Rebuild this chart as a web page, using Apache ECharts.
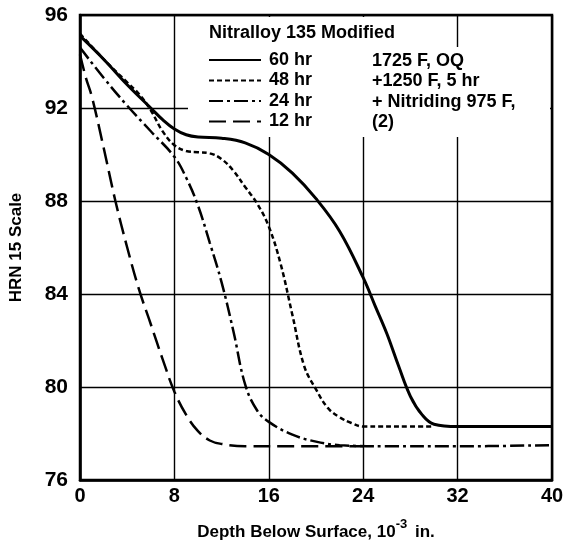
<!DOCTYPE html>
<html>
<head>
<meta charset="utf-8">
<script src="https://cdn.jsdelivr.net/npm/echarts@6/dist/echarts.min.js"></script>
<style>html,body{margin:0;padding:0;background:#fff}#c{width:571px;height:546px}</style>
</head>
<body>
<div id="c"></div>
<script>
// Data
const seriesNames = ['60 hr', '48 hr', '24 hr', '12 hr'];
const xTicks = [0, 8, 16, 24, 32, 40];
const yTicks = [76, 80, 84, 88, 92, 96];
const treatmentNotes = ['1725 F, OQ', '+1250 F, 5 hr', '+ Nitriding 975 F,', '(2)'];

const depth60 = [0, 2, 4, 6, 7, 8, 9, 10, 12, 14, 16, 18, 20, 22, 24, 25, 26, 27, 28, 29, 30, 32, 36, 40];
const hrn60   = [95.1, 94.1, 93.0, 92.0, 91.5, 91.1, 90.85, 90.75, 90.7, 90.5, 90.0, 89.2, 88.1, 86.7, 84.7, 83.5, 82.3, 80.9, 79.6, 78.8, 78.4, 78.3, 78.3, 78.3];

const depth48 = [0, 2, 4, 5, 6, 7, 8, 9, 10, 11, 12, 13, 14, 15, 16, 17, 18, 19, 20, 21, 22, 23, 24, 28, 30];
const hrn48   = [95.2, 94.1, 93.1, 92.6, 91.9, 91.0, 90.4, 90.15, 90.1, 90.05, 89.8, 89.3, 88.6, 87.9, 86.9, 85.3, 83.1, 80.9, 79.9, 79.1, 78.7, 78.45, 78.3, 78.3, 78.3];

const depth24 = [0, 2, 4, 6, 8, 9, 10, 11, 12, 13, 14, 15, 16, 18, 20, 22, 26, 32, 40];
const hrn24   = [94.6, 93.3, 92.1, 91.0, 89.9, 89.0, 87.8, 86.2, 84.5, 82.4, 80.1, 79.0, 78.5, 77.95, 77.65, 77.5, 77.45, 77.45, 77.5];

const depth12 = [0, 0.5, 1, 2, 3, 4, 5, 6, 7, 8, 9, 10, 11, 12, 14, 18, 24];
const hrn12   = [94.3, 93.3, 92.5, 90.3, 88.0, 86.0, 84.2, 82.7, 81.2, 79.8, 78.8, 78.1, 77.7, 77.55, 77.45, 77.45, 77.45];

const zip = (xs, ys) => xs.map((x, i) => [x, ys[i]]);

const FONT = '"Liberation Sans", Arial, sans-serif';
const chart = echarts.init(document.getElementById('c'), null, {renderer: 'canvas'});

const styles = [
  {type: 'solid', width: 3},
  {type: [5, 3], width: 2.5},
  {type: [14, 4, 3, 4], width: 2.5},
  {type: [17, 7], width: 2.5}
];
const dataSets = [zip(depth60, hrn60), zip(depth48, hrn48), zip(depth24, hrn24), zip(depth12, hrn12)];

const option = {
  backgroundColor: '#fff',
  animation: false,
  grid: {left: 77, right: 19, top: 15, bottom: 59, show: true, borderColor: '#000', borderWidth: 2.5, backgroundColor: 'transparent'},
  xAxis: {
    type: 'value', min: xTicks[0], max: xTicks[xTicks.length - 1], interval: 8,
    name: '{b|Depth Below Surface, 10}{sup|-3}{b| in.}',
    nameLocation: 'middle', nameGap: 38,
    nameTextStyle: {rich: {
      b: {fontFamily: FONT, fontWeight: 'bold', fontSize: 17, color: '#000', verticalAlign: 'bottom'},
      sup: {fontFamily: FONT, fontWeight: 'bold', fontSize: 13, color: '#000', verticalAlign: 'top', padding: [0, 3, 10, 0]}
    }},
    axisLine: {show: true, lineStyle: {color: '#000', width: 2.5}},
    axisTick: {show: false},
    axisLabel: {color: '#000', fontFamily: FONT, fontWeight: 'bold', fontSize: 20, margin: 6},
    splitLine: {show: true, lineStyle: {color: '#000', width: 1.4}}
  },
  yAxis: {
    type: 'value', min: yTicks[0], max: yTicks[yTicks.length - 1], interval: 4,
    name: 'HRN 15 Scale', nameLocation: 'middle', nameGap: 55, nameRotate: 90,
    nameTextStyle: {fontFamily: FONT, fontWeight: 'bold', fontSize: 17, color: '#000'},
    axisLine: {show: true, lineStyle: {color: '#000', width: 2.5}},
    axisTick: {show: false},
    axisLabel: {color: '#000', fontFamily: FONT, fontWeight: 'bold', fontSize: 21, margin: 12},
    splitLine: {show: true, lineStyle: {color: '#000', width: 1.4}}
  },
  legend: {
    orient: 'vertical', left: 208, top: 51, itemWidth: 52, itemHeight: 12, itemGap: 2.5,
    padding: 0,
    data: seriesNames,
    itemStyle: {opacity: 0},
    textStyle: {fontFamily: FONT, fontWeight: 'bold', fontSize: 18, lineHeight: 18, color: '#000', padding: [0, 0, 0, 3]},
    inactiveColor: '#000'
  },
  graphic: [
    {type: 'rect', z: 1, shape: {x: 188, y: 47, width: 362, height: 90}, style: {fill: '#fff'}},
    {type: 'rect', z: 1, shape: {x: 188, y: 17, width: 266, height: 31}, style: {fill: '#fff'}},
    {type: 'text', z: 10, left: 209, top: 24, style: {text: 'Nitralloy 135 Modified', font: 'bold 18px ' + FONT, fill: '#000'}},
  ].concat(treatmentNotes.map((t, i) => ({
    type: 'text', z: 10, left: 372, top: 52 + i * 20.5, style: {text: t, font: 'bold 18px ' + FONT, fill: '#000'}
  }))),
  series: seriesNames.map((n, i) => ({
    name: n, type: 'line', data: dataSets[i], showSymbol: false, symbol: 'none',
    smooth: 0.4, z: 3,
    lineStyle: {color: '#000', width: styles[i].width, type: styles[i].type},
    itemStyle: {color: '#000'}
  }))
};
chart.setOption(option);
</script>
</body>
</html>
